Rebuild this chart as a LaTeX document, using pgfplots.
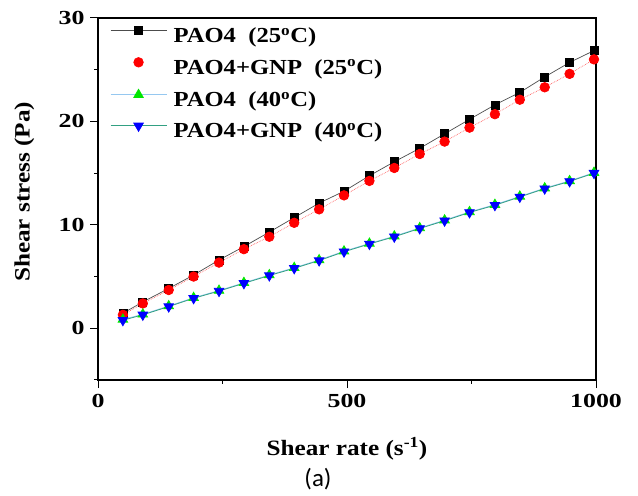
\documentclass[border=0pt]{standalone}
\usepackage{fontspec}
\setmainfont{Liberation Serif}[FakeStretch=1.15]
\newfontfamily\tickfont{Liberation Serif}[FakeStretch=1.3]
\newfontfamily\carlito{Carlito}
\usepackage{pgfplots}
\usepackage{pgfplotstable}
\pgfplotsset{compat=1.18}
\definecolor{pgreen}{RGB}{0,230,0}
\definecolor{pblue}{RGB}{0,0,255}
\definecolor{pred}{RGB}{255,0,0}
\definecolor{lblue}{RGB}{150,200,240}
\definecolor{lteal}{RGB}{50,160,130}

\pgfplotstableread{
x    b      r      g      u
50   1.45   1.30   0.85   0.78
90   2.55   2.40   1.35   1.30
142  3.85   3.70   2.15   2.10
192  5.15   5.00   2.95   2.90
243  6.60   6.35   3.65   3.60
293  7.90   7.65   4.40   4.35
344  9.30   8.85   5.15   5.10
394  10.70  10.20  5.85   5.80
444  12.10  11.50  6.60   6.55
494  13.25  12.85  7.45   7.40
545  14.75  14.25  8.20   8.15
595  16.10  15.50  8.90   8.85
646  17.40  16.85  9.70   9.65
696  18.80  18.05  10.45  10.40
746  20.20  19.40  11.25  11.20
797  21.60  20.70  11.95  11.90
847  22.80  22.10  12.75  12.70
897  24.30  23.30  13.55  13.50
947  25.70  24.60  14.25  14.20
996  26.85  26.00  15.05  15.00
}\data

\begin{document}
\begin{tikzpicture}
\useasboundingbox (0,0) rectangle (638bp,496bp);
\begin{axis}[
  at={(98bp,116bp)}, anchor=south west,
  scale only axis, width=498bp, height=362bp,
  xmin=0, xmax=1000, ymin=-5, ymax=30,
  xtick={0,500,1000}, minor xtick={250,750},
  ytick={0,10,20,30}, minor ytick={-5,5,15,25},
  xtick pos=bottom, ytick pos=left,
  tick align=outside,
  major tick length=8bp, minor tick length=4bp,
  every tick/.append style={black, line width=1bp},
  every minor tick/.append style={black, line width=1bp},
  axis line style={line width=1.3bp},
  tick label style={font=\tickfont\fontsize{20}{23}\selectfont\bfseries},
  /pgf/number format/assume math mode=true,
  /pgf/number format/1000 sep={},
  xticklabel style={yshift=-3bp},
  yticklabel style={xshift=-2bp},
  xlabel={\bfseries Shear rate (s\textsuperscript{-1})},
  ylabel={\bfseries Shear stress (Pa)},
  label style={font=\fontsize{22}{26}\selectfont},
  xlabel style={at={(axis description cs:0.5,-0.19)}, anchor=center},
  ylabel style={at={(axis description cs:-0.148,0.52)}, anchor=center},
  legend style={at={(axis description cs:0.024,0.977)}, anchor=north west, draw=none, fill=none,
    inner sep=0bp, font=\fontsize{21.5}{25}\selectfont\bfseries, row sep=10bp,
    nodes={inner sep=0bp, text height=16bp, text depth=5bp}},
  legend cell align=left,
  legend image code/.code={\draw[mark repeat=2,mark phase=2] plot coordinates {(0bp,6.5bp)(28bp,6.5bp)(56bp,6.5bp)}; \path[draw=none,fill=none] (0bp,0bp) -- (63bp,0bp);},
]
\addplot[black!70, line width=0.7bp, mark=square*, mark size=4bp, mark options={solid, fill=black, draw=black}] table[x=x,y=b]{\data};
\addlegendentry{PAO4\ \ (25\textsuperscript{o}C)}
\addplot[pred!60, densely dotted, line width=0.7bp, mark=*, mark size=4.8bp, mark options={solid, fill=pred, draw=pred},
  legend image code/.code={\draw[white, mark repeat=2,mark phase=2] plot coordinates {(0bp,6.5bp)(28bp,6.5bp)(56bp,6.5bp)}; \path[draw=none,fill=none] (0bp,0bp) -- (63bp,0bp);}] table[x=x,y=r]{\data};
\addlegendentry{PAO4+GNP\ \ (25\textsuperscript{o}C)}
\addplot[lblue, line width=0.8bp, mark=triangle*, mark size=5.5bp, mark options={solid, fill=pgreen, draw=pgreen}] table[x=x,y=g]{\data};
\addlegendentry{PAO4\ \ (40\textsuperscript{o}C)}
\addplot[lteal, line width=0.8bp, mark=triangle*, mark size=5.5bp, mark options={solid, rotate=180, fill=pblue, draw=pblue}] table[x=x,y=u]{\data};
\addlegendentry{PAO4+GNP\ \ (40\textsuperscript{o}C)}
\end{axis}
\node[font=\carlito\fontsize{25}{29}\selectfont] at (318bp,17bp) {(a)};
\end{tikzpicture}
\end{document}
